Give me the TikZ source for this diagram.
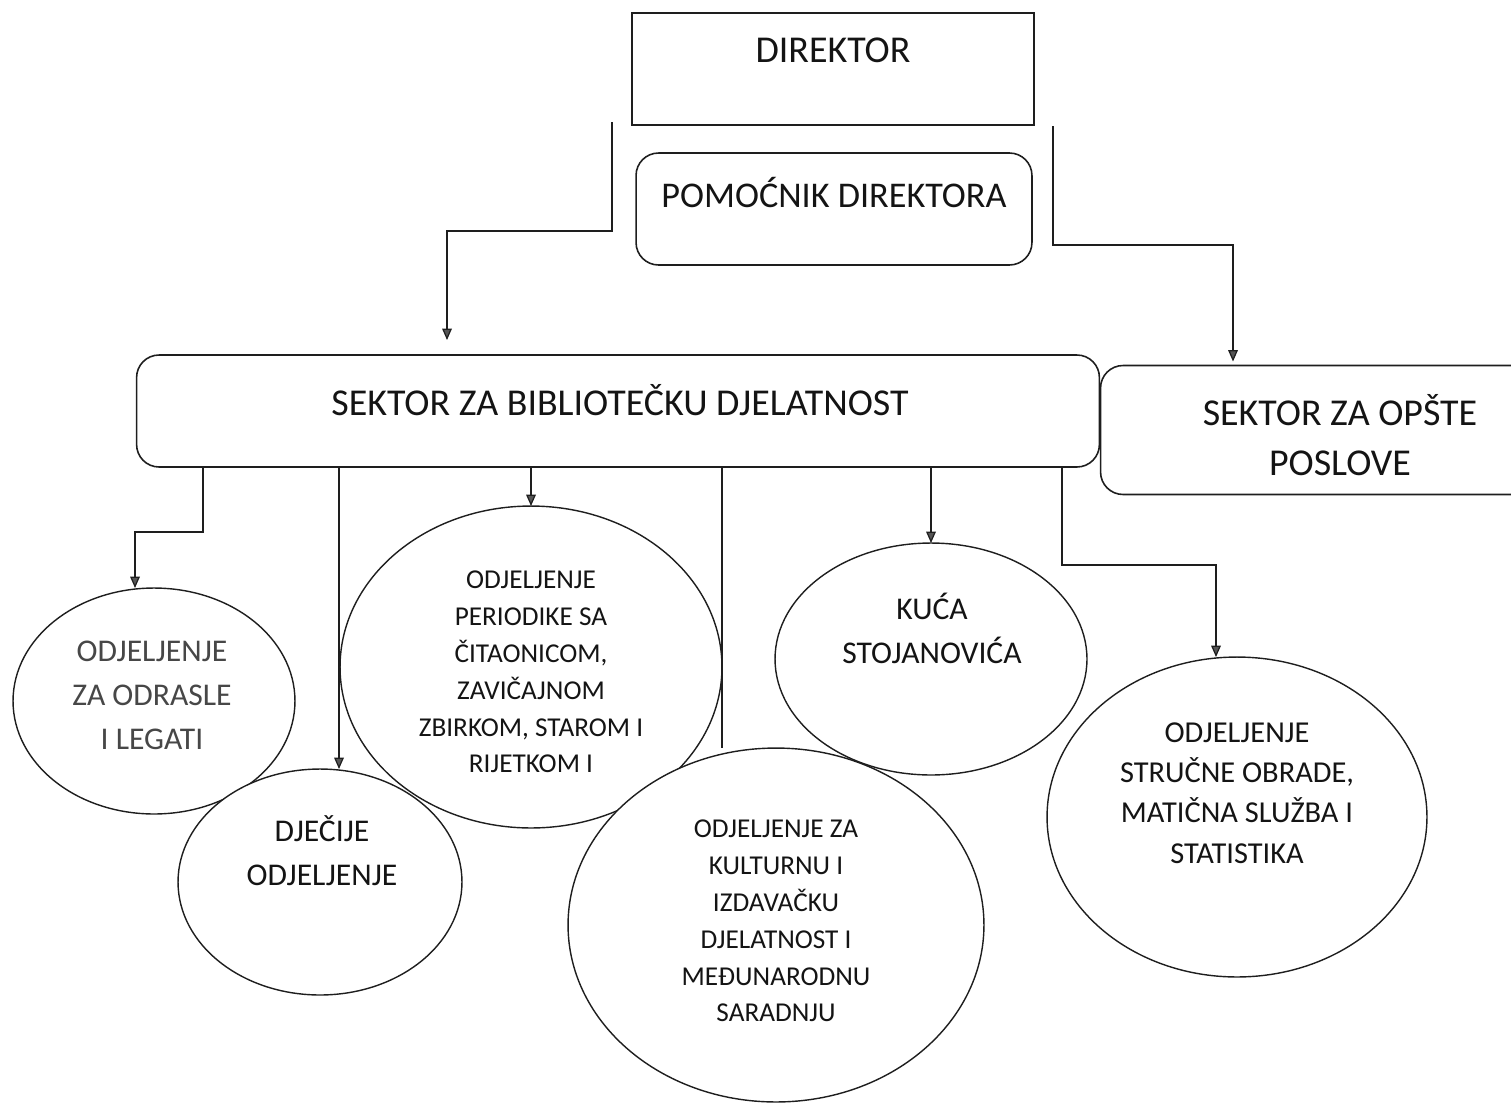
\documentclass[tikz,border=0pt]{standalone}
\usepackage{fontspec}
\setmainfont{Carlito}
\usetikzlibrary{shapes.geometric,arrows.meta,positioning,calc}
\definecolor{inkgray}{RGB}{30,30,30}
\definecolor{tipgray}{RGB}{85,85,85}

\begin{document}
\begin{tikzpicture}[
    x=0.02cm, y=-0.02cm,
    box/.style={rectangle, draw=inkgray, line width=0.9pt, minimum height=2.24cm, outer sep=0pt},
    rbox/.style={box, rounded corners=0.45cm},
    dept/.style={ellipse, draw=inkgray, line width=0.8pt, fill=white, inner sep=0pt, outer sep=0pt},
    txt/.style={align=center, text=black!92, inner sep=0pt},
    headtxt/.style={txt, font=\fontsize{21.6}{28}\selectfont},
    depttxt/.style={txt, font=\fontsize{18}{25}\selectfont},
    smalltxt/.style={txt, font=\fontsize{15.5}{21}\selectfont},
    arrow/.style={-{Triangle[width=5.5pt, length=6.5pt, fill=tipgray]}, line width=0.7pt, draw=inkgray},
    link/.style={line width=0.7pt, draw=inkgray}
]
    \useasboundingbox (0,0) rectangle (1511,1106);

    % management
    \node[box, minimum width=8.04cm] (director) at (833,69) {};
    \node[rbox, minimum width=7.92cm] (assistant) at (834,209) {};
    \node[headtxt] (director-text) at (833,50) {DIREKTOR};
    \node[headtxt, font=\fontsize{20.6}{28}\selectfont] (assistant-text) at (834,193) {POMOĆNIK DIREKTORA};

    % sectors
    \node[rbox, minimum width=19.26cm] (library) at (618,411) {};
    \node[rbox, minimum width=9.18cm, minimum height=2.58cm] (general) at (1330,430) {};
    \node[headtxt] (library-text) at (620,400) {SEKTOR ZA BIBLIOTEČKU DJELATNOST};
    \node[headtxt] (general-text) at (1340,435) {SEKTOR ZA OPŠTE\\POSLOVE};

    % departments
    \node[dept, minimum width=5.64cm, minimum height=4.52cm] (adults) at (154,701) {};
    \node[dept, minimum width=5.68cm, minimum height=4.52cm] (children) at (320,882) {};
    \node[dept, fill=none, minimum width=7.64cm, minimum height=6.44cm] (periodicals) at (531,667) {};
    \node[dept, minimum width=8.32cm, minimum height=7.08cm] (culture) at (776,925) {};
    \node[dept, minimum width=6.24cm, minimum height=4.64cm] (house) at (931,659) {};
    \node[dept, minimum width=7.6cm, minimum height=6.4cm] (cataloguing) at (1237,817) {};

    \node[depttxt, text=black!72] (adults-text) at (152,695) {ODJELJENJE\\ZA ODRASLE\\I LEGATI};
    \node[depttxt] (children-text) at (322,851) {DJEČIJE\\ODJELJENJE};
    \node[smalltxt] (periodicals-text) at (531,672) {ODJELJENJE\\PERIODIKE SA\\ČITAONICOM,\\ZAVIČAJNOM\\ZBIRKOM, STAROM I\\RIJETKOM I};
    \node[smalltxt] (culture-text) at (776,921) {ODJELJENJE ZA\\KULTURNU I\\IZDAVAČKU\\DJELATNOST I\\MEĐUNARODNU\\SARADNJU};
    \node[depttxt] (house-text) at (932,628) {KUĆA\\STOJANOVIĆA};
    \node[depttxt, font=\fontsize{17.3}{23}\selectfont] (cataloguing-text) at (1237,793) {ODJELJENJE\\STRUČNE OBRADE,\\MATIČNA SLUŽBA I\\STATISTIKA};

    % connectors
    \coordinate (lead-left) at (612,122);
    \coordinate (lead-right) at (1053,126);
    \draw[arrow, shorten >=0.3cm] (lead-left) |- (447,231) -- (library.north -| 447,0);
    \draw[arrow, shorten >=0.08cm] (lead-right) |- (1233,245) -- (general.north -| 1233,0);

    \draw[arrow] (library.south -| 203,0) |- (135,532) -- (adults.north -| 135,0);
    \draw[arrow] (library.south -| 339,0) -- (children.north -| 339,0);
    \draw[arrow] (library.south -| periodicals.north) -- (periodicals.north);
    \draw[link] (library.south -| 722,0) -- (culture.north -| 722,0);
    \draw[arrow] (library.south -| house.north) -- (house.north);
    \draw[arrow] (library.south -| 1062,0) |- (1216,565) -- (cataloguing.north -| 1216,0);
\end{tikzpicture}
\end{document}
